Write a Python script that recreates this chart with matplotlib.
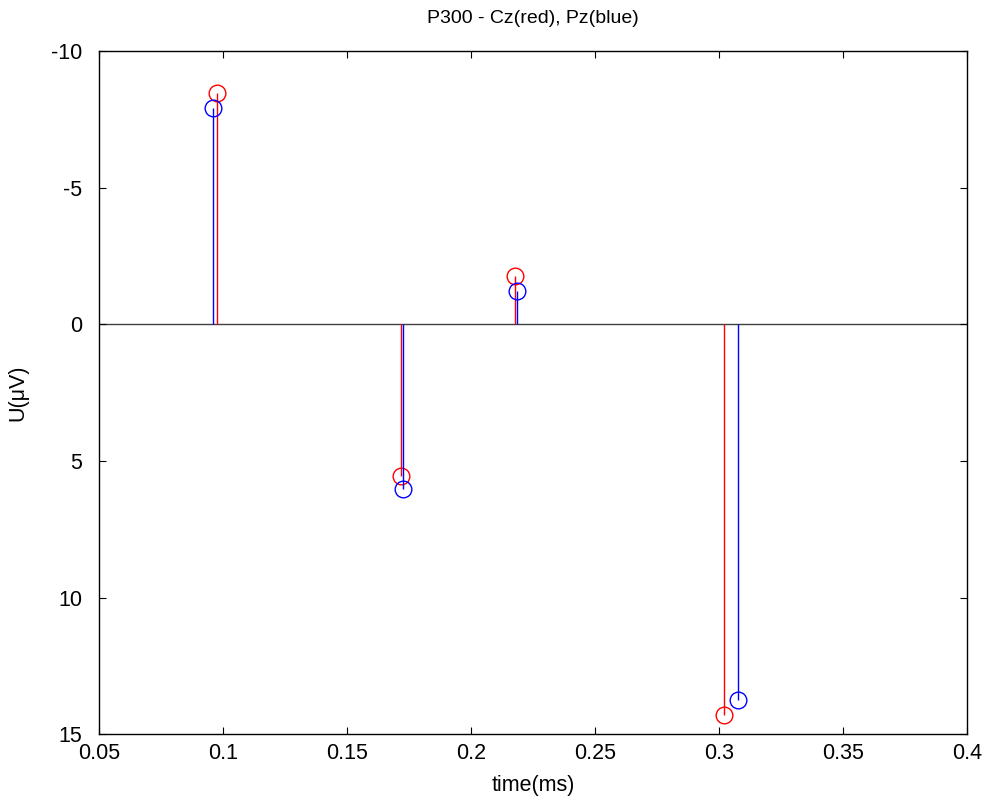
import matplotlib
matplotlib.use("Agg")
import matplotlib.pyplot as plt

plt.rcParams['font.family'] = ['Liberation Sans', 'DejaVu Sans']

time_cz = [0.0976, 0.1720, 0.2179, 0.3020]
u_cz = [-8.47, 5.56, -1.76, 14.28]
time_pz = [0.0960, 0.1726, 0.2187, 0.3079]
u_pz = [-7.90, 6.02, -1.23, 13.76]

xticks = [0.05, 0.1, 0.15, 0.2, 0.25, 0.3, 0.35, 0.4]
xticklabels = ['0.05', '0.1', '0.15', '0.2', '0.25', '0.3', '0.35', '0.4']
yticks = [-10, -5, 0, 5, 10, 15]
yticklabels = ['-10', '-5', '0', '5', '10', '15']

fig = plt.figure(figsize=(9.9, 8.07), dpi=100)
ax = fig.add_axes([0.1, 0.0901, 0.8765, 0.8467])

ax.axhline(0, color='#404040', lw=1, zorder=1)

for xs, ys, c in [(time_cz, u_cz, 'red'), (time_pz, u_pz, 'blue')]:
    ml, sl, bl = ax.stem(xs, ys, linefmt='-', markerfmt='o', basefmt=' ')
    plt.setp(sl, color=c, linewidth=1)
    plt.setp(ml, markerfacecolor='none', markeredgecolor=c, markersize=12, markeredgewidth=1)

ax.set_xlim(0.05, 0.4)
ax.set_ylim(15, -10)
ax.set_xticks(xticks)
ax.set_xticklabels(xticklabels)
ax.set_yticks(yticks)
ax.set_yticklabels(yticklabels)
ax.tick_params(direction='in', top=True, right=True, length=5, width=0.8, labelsize=15.5)
ax.tick_params(axis='x', pad=6)
ax.tick_params(axis='y', pad=12)
for s in ax.spines.values():
    s.set_linewidth(1)

ax.set_title('P300 - Cz(red), Pz(blue)', fontsize=14, pad=20)
ax.set_xlabel('time(ms)', fontsize=15.5, labelpad=8)
ax.set_ylabel('U(μV)', fontsize=15.5, labelpad=16)

fig.savefig('out.png', dpi=100, facecolor='white')
